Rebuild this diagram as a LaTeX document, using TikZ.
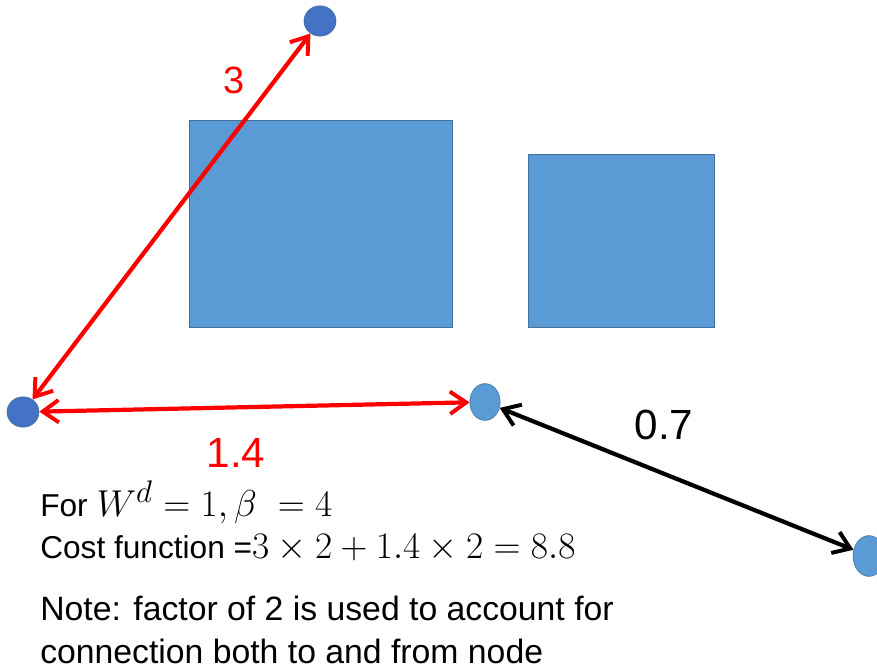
\documentclass[tikz,border=0pt]{standalone}
\usepackage{fontspec}
\setmainfont{Liberation Sans}
\usepackage{amsmath}
\usepackage{graphicx}
\usepackage{tikz}
\usetikzlibrary{positioning, arrows.meta, shapes.geometric}

\definecolor{dotdark}{HTML}{4472C4}
\definecolor{dotlight}{HTML}{5B9BD5}
\definecolor{boxedge}{HTML}{41719C}

\newcommand{\bigmath}[1]{{\fontsize{24.88}{30}\selectfont\scalebox{1.07}{$#1$}}}

\begin{document}
\begin{tikzpicture}[
        x = 0.025cm,
        y = -0.025cm,
        dot/.style = {
            ellipse,
            draw = boxedge,
            line width = 0.4pt,
            inner sep = 0pt
        },
        darkdot/.style = {dot, fill = dotdark, minimum width = 0.8cm, minimum height = 0.76cm},
        lightdot/.style = {dot, fill = dotlight},
        block/.style = {
            draw = boxedge,
            fill = dotlight,
            line width = 0.6pt
        },
        link/.style = {
            line width = 3pt,
            {Straight Barb[length = 0.4cm, width = 0.56cm, line width = 2.8pt]}-{Straight Barb[length = 0.4cm, width = 0.56cm, line width = 2.8pt]}
        },
        redlink/.style = {link, red},
        blacklink/.style = {link, black},
        cost/.style = {font = \fontsize{30}{36}\selectfont},
        info/.style = {
            align = left,
            inner sep = 0pt,
            font = \fontsize{22.5}{30}\selectfont
        }
    ]
        \useasboundingbox (0,0) rectangle (877,669);

        % obstacles
        \draw[block] (189,120) rectangle (452,327);
        \draw[block] (528,154) rectangle (714,327);

        % nodes
        \node[darkdot] (top) at (320,21) {};
        \node[darkdot] (left) at (23,412) {};
        \node[lightdot, minimum width = 0.76cm, minimum height = 0.92cm] (mid) at (485,402) {};
        \node[lightdot, minimum width = 0.8cm, minimum height = 1.02cm] (right) at (869,556) {};

        % connections
        \draw[redlink] (left) -- (top);
        \draw[redlink] (left) -- (mid);
        \draw[blacklink] (mid) -- (right);

        % costs
        \node[cost, red, font = \fontsize{27}{32}\selectfont] (c3) at (234,80) {3};
        \node[cost, red] (c14) at (236,453) {1.4};
        \node[cost] (c07) at (664,425) {0.7};

        % explanation
        \node[info, anchor = north west] (formula) at (40,481) {
            For \bigmath{W^{d} = 1, \beta\ = 4} \\
            Cost function =\bigmath{3 \times 2 + 1.4 \times 2 = 8.8}
        };
        \node[info, font = \fontsize{24}{30}\selectfont, below = 0.85cm of formula.south west, anchor = north west] (note) {
            Note: factor of 2 is used to account for \\
            connection both to and from node
        };
    \end{tikzpicture}
\end{document}
